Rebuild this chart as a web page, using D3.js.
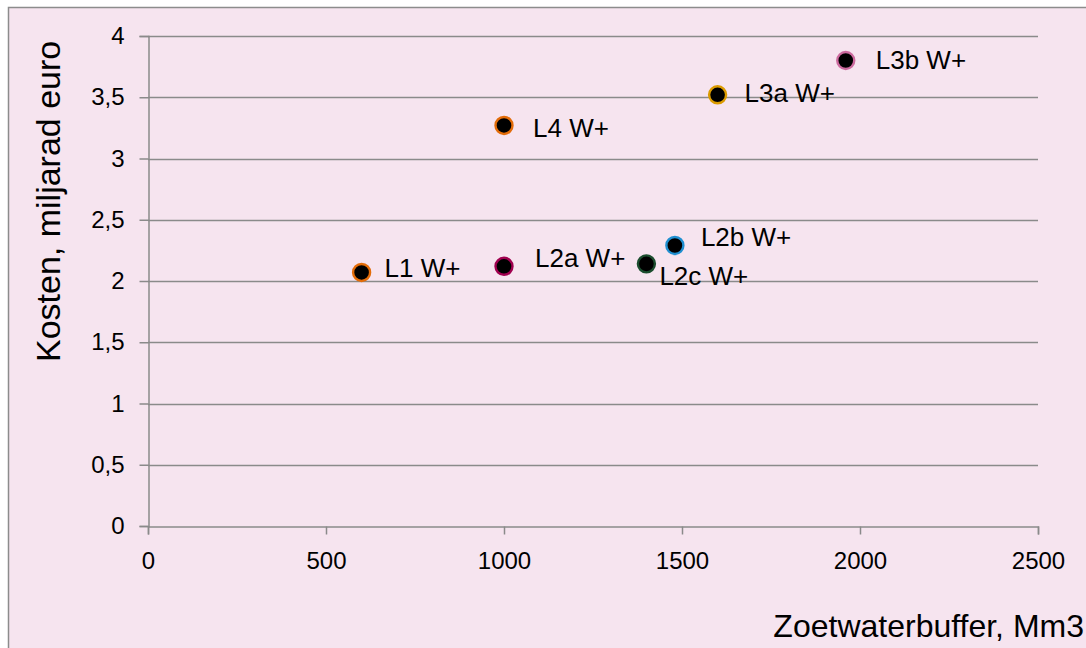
<!DOCTYPE html>
<html>
<head>
<meta charset="utf-8">
<script src="https://cdn.jsdelivr.net/npm/d3@7"></script>
<style>
  html, body { margin: 0; padding: 0; background: #ffffff; }
  svg { display: block; }
  text { font-family: "Liberation Sans", Arial, sans-serif; fill: #000; }
</style>
</head>
<body>
<svg id="chart" width="1086" height="648"></svg>
<script>
// ---- data ----
const labels  = ["L1 W+", "L2a W+", "L2b W+", "L2c W+", "L3a W+", "L3b W+", "L4 W+"];
const xValues = [600, 1000, 1480, 1400, 1600, 1960, 1000];
const yValues = [2.07, 2.12, 2.29, 2.14, 3.52, 3.80, 3.27];
const xTicks  = [0, 500, 1000, 1500, 2000, 2500];
const yTicks  = [0, 0.5, 1, 1.5, 2, 2.5, 3, 3.5, 4];
const xTitle  = "Zoetwaterbuffer, Mm3";
const yTitle  = "Kosten, miljarad euro";

// ---- styles ----
const strokeColors = ["#E36C09", "#A0004F", "#1F8FD0", "#1B4D2E", "#DB9B00", "#CC6A9E", "#E36C09"];
const labelOffsets = [[23, 5], [31, 1], [26, 1], [13, 21], [27, 7], [30, 8], [29, 12]];

const svg = d3.select("#chart");
const W = 1086, H = 648;
const m = { left: 148, right: 48, top: 36, bottom: 122 };

svg.append("rect").attr("x", 8.5).attr("y", 7.5).attr("width", W).attr("height", H)
  .attr("fill", "#F6E4EF").attr("stroke", "#8c8c8c").attr("stroke-width", 1.5);

const x = d3.scaleLinear().domain([0, 2500]).range([m.left, W - m.right]);
const y = d3.scaleLinear().domain([0, 4]).range([H - m.bottom, m.top]);

// gridlines
svg.append("g").selectAll("line").data(yTicks.filter(d => d > 0)).join("line")
  .attr("x1", m.left).attr("x2", W - m.right)
  .attr("y1", d => Math.round(y(d)) + 0.5).attr("y2", d => Math.round(y(d)) + 0.5)
  .attr("stroke", "#8a8a8a").attr("stroke-width", 1.3);

// y axis
const yAxis = svg.append("g").attr("transform", `translate(${m.left + 0.5},0)`)
  .call(d3.axisLeft(y).tickValues(yTicks).tickSize(9).tickPadding(15)
    .tickFormat(d => String(d).replace(".", ",")));
// x axis
const xAxis = svg.append("g").attr("transform", `translate(0,${Math.round(y(0)) + 0.5})`)
  .call(d3.axisBottom(x).tickValues(xTicks).tickSize(8).tickPadding(17)
    .tickFormat(d3.format("d")));
[yAxis, xAxis].forEach(a => {
  a.select(".domain").attr("stroke", "#8a8a8a").attr("stroke-width", 1.5);
  a.selectAll(".tick line").attr("stroke", "#8a8a8a").attr("stroke-width", 1.5);
  a.selectAll(".tick text").attr("font-size", 24).attr("font-family", "Liberation Sans, Arial, sans-serif").attr("fill", "#000");
});

// points
const pts = labels.map((l, i) => ({ l, x: xValues[i], y: yValues[i], c: strokeColors[i], o: labelOffsets[i] }));
svg.append("g").selectAll("circle").data(pts).join("circle")
  .attr("cx", d => x(d.x)).attr("cy", d => y(d.y)).attr("r", 8.5)
  .attr("fill", "#000").attr("stroke", d => d.c).attr("stroke-width", 2.4);

svg.append("g").selectAll("text").data(pts).join("text")
  .attr("x", d => x(d.x) + d.o[0]).attr("y", d => y(d.y) + d.o[1])
  .attr("font-size", 26).text(d => d.l);

// titles
svg.append("text").attr("x", 1084).attr("y", 637).attr("text-anchor", "end")
  .attr("font-size", 32).text(xTitle);
svg.append("text").attr("transform", `translate(60,${y(2.65)}) rotate(-90)`)
  .attr("text-anchor", "middle").attr("font-size", 34).text(yTitle);
</script>
</body>
</html>
